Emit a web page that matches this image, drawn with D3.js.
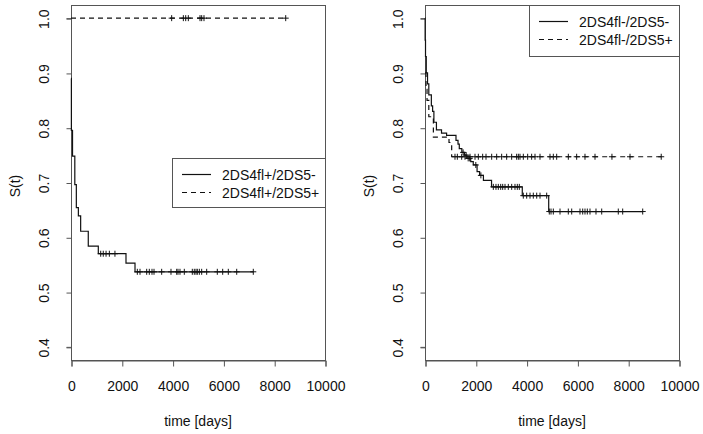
<!DOCTYPE html>
<html>
<head>
<meta charset="utf-8">
<script src="https://cdn.jsdelivr.net/npm/d3@7"></script>
<style>
  body { margin: 0; background: #fff; }
  svg { display: block; font-family: "Liberation Sans", Arial, sans-serif; }
</style>
</head>
<body>
<div id="chart"></div>
<script>
// tick labels
const xTicks = [0, 2000, 4000, 6000, 8000, 10000];
const yTicks = [0.4, 0.5, 0.6, 0.7, 0.8, 0.9, 1.0];

// left panel: 2DS4fl+/2DS5-  (step times, survival after step)
const aNegTimes = [0, 15, 60, 150, 210, 290, 380, 680, 1075, 2165, 2520];
const aNegSurv = [0.890, 0.795, 0.748, 0.696, 0.654, 0.639, 0.611, 0.584, 0.570, 0.553, 0.537];
const aNegEnd = 7177;
const aNegCens = [1170, 1270, 1380, 1510, 1730, 2611, 2717, 2980, 3083, 3189, 3268, 3570, 3937,
  4161, 4213, 4291, 4461, 4776, 4854, 4921, 4973, 5052, 5145, 5342, 5760, 5972, 6193, 6524, 7177];

// left panel: 2DS4fl+/2DS5+
const aPosTimes = [0];
const aPosSurv = [1.0];
const aPosEnd = 8453;
const aPosCens = [3963, 4423, 4516, 4619, 5079, 5145, 5236, 8453];

// right panel: 2DS4fl-/2DS5-
const bNegTimes = [0, 5, 20, 50, 100, 150, 250, 300, 350, 450, 650, 850, 1220, 1300, 1350, 1450,
  1550, 1650, 1800, 1900, 2050, 2150, 2300, 2620, 3830, 4870];
const bNegSurv = [1.0, 0.96, 0.93, 0.90, 0.88, 0.86, 0.84, 0.83, 0.81, 0.796, 0.79, 0.786, 0.777,
  0.770, 0.762, 0.755, 0.750, 0.744, 0.738, 0.732, 0.720, 0.713, 0.704, 0.692, 0.676, 0.647];
const bNegEnd = 8571;
const bNegCens = [1500, 1620, 1700, 1760, 2000, 2200, 2690, 2795, 2886, 2980, 3059, 3150, 3280,
  3413, 3543, 3634, 3713, 3870, 4003, 4134, 4264, 4398, 4528, 4791, 4894, 4961, 5052, 5315, 5642,
  5776, 6102, 6209, 6299, 6390, 6496, 6732, 6957, 7610, 7783, 8571];

// right panel: 2DS4fl-/2DS5+
const bPosTimes = [0, 40, 80, 150, 330, 945, 1050];
const bPosSurv = [0.90, 0.87, 0.85, 0.82, 0.783, 0.773, 0.747];
const bPosEnd = 9300;
const bPosCens = [1181, 1273, 1444, 1575, 1772, 1969, 2100, 2270, 2402, 2625, 2822, 3018, 3215,
  3412, 3609, 3675, 3740, 3871, 4042, 4199, 4331, 4528, 4921, 5052, 5184, 5643, 5971, 6299, 6693,
  7360, 8071, 9300];

const W = 703, H = 434;
const FS = 14;
const svg = d3.select('#chart').append('svg').attr('width', W).attr('height', H);

const panels = [
  {
    left: 71, right: 325,
    curves: [
      { name: '2DS4fl+/2DS5-', times: aNegTimes, surv: aNegSurv, end: aNegEnd, cens: aNegCens, dash: null },
      { name: '2DS4fl+/2DS5+', times: aPosTimes, surv: aPosSurv, end: aPosEnd, cens: aPosCens, dash: '5,4' },
    ],
    legend: { x: 172, y: 158, w: 153, h: 49 },
  },
  {
    left: 425, right: 679,
    curves: [
      { name: '2DS4fl-/2DS5-', times: bNegTimes, surv: bNegSurv, end: bNegEnd, cens: bNegCens, dash: null },
      { name: '2DS4fl-/2DS5+', times: bPosTimes, surv: bPosSurv, end: bPosEnd, cens: bPosCens, dash: '5,4' },
    ],
    legend: { x: 529, y: 5, w: 150, h: 51 },
  },
];

const plotTop = 5, plotBottom = 360;
const axisCol = '#555';
const textCol = '#111';

function survAt(times, surv, t) {
  const i = d3.bisectRight(times, t) - 1;
  return surv[Math.max(0, i)];
}

panels.forEach((p) => {
  const x = d3.scaleLinear().domain([0, 10000]).range([p.left, p.right]);
  const y = d3.scaleLinear().domain([0.376, 1.024]).range([plotBottom, plotTop]);
  const g = svg.append('g');

  // box
  g.append('rect')
    .attr('x', p.left + 0.5).attr('y', plotTop + 0.5)
    .attr('width', p.right - p.left).attr('height', plotBottom - plotTop)
    .attr('fill', 'none').attr('stroke', axisCol).attr('stroke-width', 1);

  // x axis
  const xa = g.append('g').attr('transform', `translate(0.5,${plotBottom + 0.5})`)
    .call(d3.axisBottom(x).tickValues(xTicks).tickSize(6).tickPadding(15).tickFormat(d3.format('d')));
  xa.select('.domain').attr('stroke', axisCol);
  xa.selectAll('.tick line').attr('stroke', axisCol);
  xa.selectAll('text').attr('font-size', FS).attr('fill', textCol).attr('font-family', null);

  // y axis
  const ya = g.append('g').attr('transform', `translate(${p.left + 0.5},0.5)`)
    .call(d3.axisLeft(y).tickValues(yTicks).tickSize(5).tickFormat(d3.format('.1f')));
  ya.select('.domain').attr('d', `M-5,${y(0.4)}H0V${y(1.0)}H-5`).attr('stroke', axisCol);
  ya.selectAll('.tick line').attr('stroke', axisCol);
  ya.selectAll('.tick text')
    .attr('font-size', FS).attr('fill', textCol).attr('font-family', null)
    .attr('x', null).attr('dy', null)
    .attr('text-anchor', 'middle')
    .attr('transform', 'translate(-23,0) rotate(-90)');

  // axis titles
  g.append('text')
    .attr('x', (p.left + p.right) / 2).attr('y', 426)
    .attr('text-anchor', 'middle').attr('font-size', FS).attr('fill', textCol)
    .text('time [days]');
  g.append('text')
    .attr('transform', `translate(${p.left - 51},186) rotate(-90)`)
    .attr('text-anchor', 'middle').attr('font-size', FS).attr('fill', textCol)
    .text('S(t)');

  // curves
  const line = d3.line().curve(d3.curveStepAfter).x((d) => x(d[0])).y((d) => y(d[1]));
  p.curves.forEach((c) => {
    const pts = c.times.map((t, i) => [t, c.surv[i]]);
    pts.push([c.end, c.surv[c.surv.length - 1]]);
    g.append('path')
      .attr('d', line(pts))
      .attr('fill', 'none').attr('stroke', '#111').attr('stroke-width', 1.2)
      .attr('stroke-dasharray', c.dash);
    g.selectAll(null).data(c.cens).enter().append('path')
      .attr('d', (t) => {
        const cx = x(t), cy = y(survAt(c.times, c.surv, t));
        return `M${cx - 3},${cy}H${cx + 3}M${cx},${cy - 3}V${cy + 3}`;
      })
      .attr('stroke', '#111').attr('stroke-width', 1);
  });

  // legend
  const L = p.legend;
  const lg = g.append('g');
  lg.append('rect')
    .attr('x', L.x + 0.5).attr('y', L.y + 0.5).attr('width', L.w).attr('height', L.h)
    .attr('fill', '#fff').attr('stroke', axisCol);
  p.curves.forEach((c, i) => {
    const ly = L.y + 16.5 + i * 18;
    lg.append('line')
      .attr('x1', L.x + 10).attr('x2', L.x + 39).attr('y1', ly).attr('y2', ly)
      .attr('stroke', '#111').attr('stroke-width', 1.2).attr('stroke-dasharray', c.dash);
    lg.append('text')
      .attr('x', L.x + 50).attr('y', ly + 5)
      .attr('font-size', FS).attr('fill', textCol)
      .text(c.name);
  });
});
</script>
</body>
</html>
